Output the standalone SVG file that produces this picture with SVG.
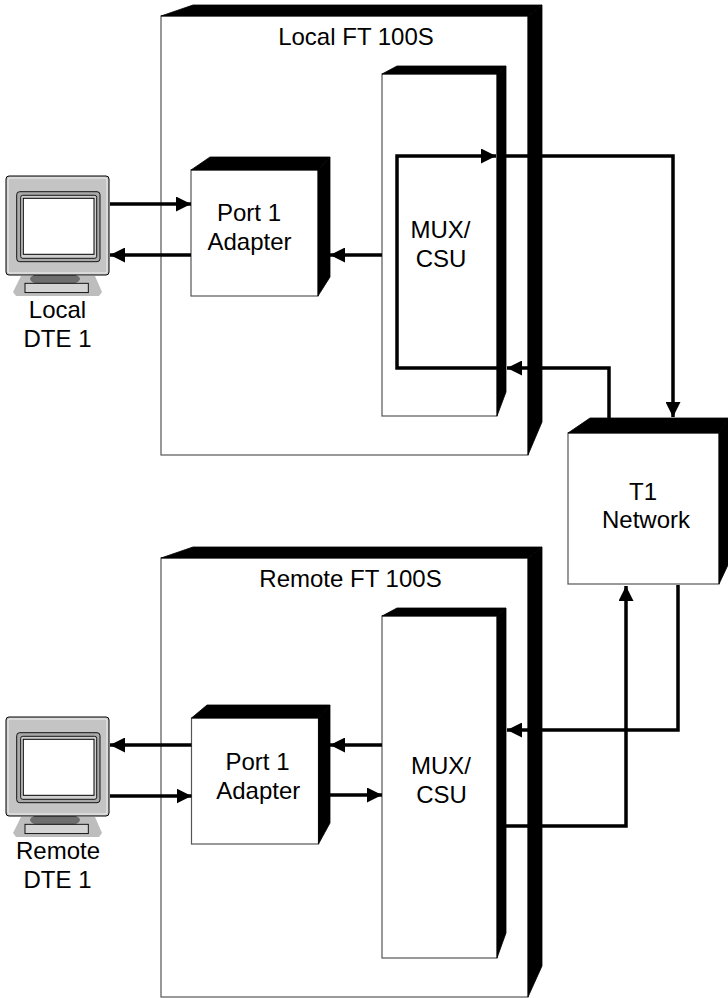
<svg xmlns="http://www.w3.org/2000/svg" width="728" height="998" viewBox="0 0 728 998">
<style>
.front{fill:#fff;stroke:#555;stroke-width:1.2}
.dark{fill:#000;stroke:#000;stroke-width:0.8;stroke-linejoin:round}
.lbl{font-family:"Liberation Sans",Arial,sans-serif;font-size:24px;fill:#000;text-anchor:middle}
.conn{fill:none;stroke:#000;stroke-width:3.5;stroke-linejoin:miter;stroke-linecap:butt}
</style>
<defs>
<marker id="arr" markerUnits="userSpaceOnUse" markerWidth="15" markerHeight="15" refX="15" refY="7.5" orient="auto">
<path d="M0,0 L15,7.5 L0,15 z" fill="#000"/>
</marker>
<g id="monitor">
<path d="M21,276 L95,276 L102,292 L99,296 L16,296 L13,292 z" fill="#bdbdbd"/>
<ellipse cx="55" cy="279" rx="25" ry="7" fill="#6e6e6e"/>
<rect x="25" y="283.3" width="63.3" height="9.3" fill="#d4d4d4" stroke="#000" stroke-width="0.9"/>
<rect x="6" y="176" width="103" height="99" rx="3" fill="#c4c4c4" stroke="#000" stroke-width="1"/>
<rect x="8" y="178" width="99" height="95" rx="2" fill="none" stroke="#f0f0f0" stroke-width="1"/>
<rect x="16.7" y="191.7" width="83.3" height="70" rx="3" fill="#a9a9a9" stroke="#000" stroke-width="0.9"/>
<rect x="20.7" y="195.3" width="76" height="63" rx="2" fill="#cfcfcf" stroke="#000" stroke-width="0.9"/>
<rect x="23.3" y="198.3" width="70.7" height="56" fill="#fff" stroke="#000" stroke-width="1"/>
</g>
</defs>

<g id="local-ft100s">
<rect class="front" x="161" y="16" width="367" height="439"/>
<polygon class="dark" points="161,16 193,5 542,5 528,16"/>
<polygon class="dark" points="528,16 542,5 542,422 528,455"/>
<text class="lbl" x="356" y="45">Local FT 100S</text>
</g>

<g id="local-port1-adapter">
<rect class="front" x="191" y="170" width="127" height="126"/>
<polygon class="dark" points="191,170 210,157 330,157 318,170"/>
<polygon class="dark" points="318,170 330,157 330,277 318,296"/>
<text class="lbl" x="249" y="221">Port 1</text>
<text class="lbl" x="249.5" y="250">Adapter</text>
</g>

<g id="local-mux-csu">
<rect class="front" x="382" y="74" width="115" height="342"/>
<polygon class="dark" points="382,74 397,66 506,66 497,74"/>
<polygon class="dark" points="497,74 506,66 506,392 497,416"/>
<text class="lbl" x="440.5" y="238.3">MUX/</text>
<text class="lbl" x="441" y="266.7">CSU</text>
</g>

<g id="t1-network">
<rect class="front" x="568" y="433" width="151" height="151"/>
<polygon class="dark" points="568,433 590,418 728,418 719,433"/>
<polygon class="dark" points="719,433 728,418 728,565 719,584"/>
<text class="lbl" x="643" y="500">T1</text>
<text class="lbl" x="646" y="528.3">Network</text>
</g>

<g id="remote-ft100s">
<rect class="front" x="161" y="558" width="367" height="439"/>
<polygon class="dark" points="161,558 193,547 542,547 528,558"/>
<polygon class="dark" points="528,558 542,547 542,966 528,997"/>
<text class="lbl" x="350.5" y="586.7">Remote FT 100S</text>
</g>

<g id="remote-port1-adapter">
<rect class="front" x="191.5" y="718" width="127" height="126"/>
<polygon class="dark" points="191.5,718 207,705 330,705 318.5,718"/>
<polygon class="dark" points="318.5,718 330,705 330,823 318.5,844"/>
<text class="lbl" x="257.5" y="770">Port 1</text>
<text class="lbl" x="258.3" y="799.3">Adapter</text>
</g>

<g id="remote-mux-csu">
<rect class="front" x="382" y="616" width="115" height="342"/>
<polygon class="dark" points="382,616 397,608 506,608 497,616"/>
<polygon class="dark" points="497,616 506,608 506,933 497,958"/>
<text class="lbl" x="441" y="774.3">MUX/</text>
<text class="lbl" x="441.5" y="803.3">CSU</text>
</g>

<g id="local-dte1">
<use href="#monitor"/>
<text class="lbl" x="57.5" y="318.3">Local</text>
<text class="lbl" x="57.5" y="346.7">DTE 1</text>
</g>

<g id="remote-dte1">
<use href="#monitor" transform="translate(0,541)"/>
<text class="lbl" x="58" y="859.3">Remote</text>
<text class="lbl" x="57.5" y="887.7">DTE 1</text>
</g>

<g id="connectors">
<path class="conn" d="M110,204 H191" marker-end="url(#arr)"/>
<path class="conn" d="M191,255 H110" marker-end="url(#arr)"/>
<path class="conn" d="M382,255 H330" marker-end="url(#arr)"/>
<path class="conn" d="M497,368 H397 V156 H496" marker-end="url(#arr)"/>
<path class="conn" d="M500,156 H673 V417" marker-end="url(#arr)"/>
<path class="conn" d="M609,418 V368 H507" marker-end="url(#arr)"/>
<path class="conn" d="M191.5,745 H110" marker-end="url(#arr)"/>
<path class="conn" d="M110,796 H191.5" marker-end="url(#arr)"/>
<path class="conn" d="M382,745 H330" marker-end="url(#arr)"/>
<path class="conn" d="M330,795 H382" marker-end="url(#arr)"/>
<path class="conn" d="M678,585 V730 H507" marker-end="url(#arr)"/>
<path class="conn" d="M500,826 H626 V586" marker-end="url(#arr)"/>
</g>
</svg>
